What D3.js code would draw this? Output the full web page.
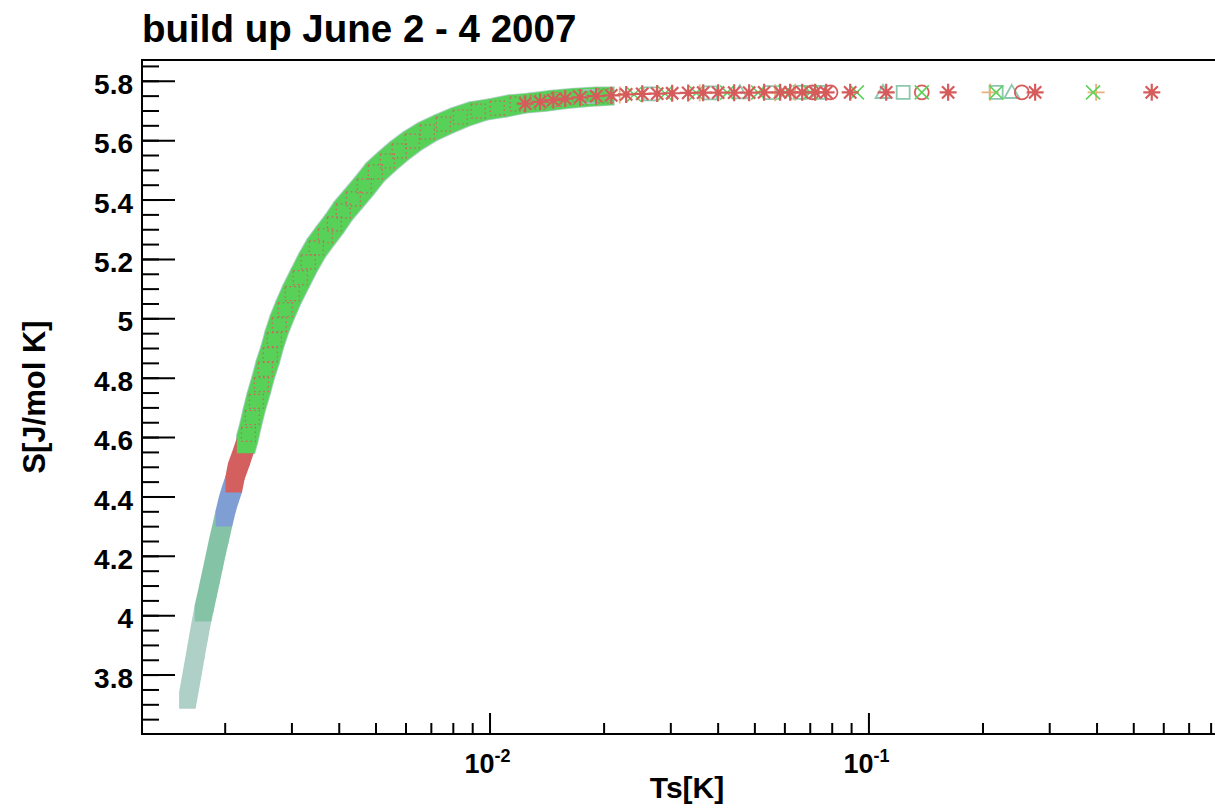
<!DOCTYPE html>
<html lang="en">
<head>
    <meta charset="UTF-8">
    <title>build up June 2 - 4 2007</title>
    <script src="https://d3js.org/d3.v7.min.js"></script>
    <style>
        body { margin: 0; background: #fff; }
        svg text {
            font-family: "Liberation Sans", Arial, Helvetica, sans-serif;
            font-weight: bold;
            fill: #000;
        }
        .frame { stroke: #000; stroke-width: 2; fill: none; }
        .tick line { stroke: #000; stroke-width: 2; }
    </style>
</head>
<body>
<div id="chart-container"></div>
<script>
// Curve: Ts[K] and S[J/mol K], split by the colour that shows on top
const paleTealT = [0.001594, 0.001623, 0.001653, 0.001683, 0.001714, 0.001753];
const paleTealS = [3.713, 3.769, 3.826, 3.883, 3.940, 4.007];

const tealT = [0.001753, 0.001778, 0.001811, 0.001844, 0.001878, 0.001912, 0.001948, 0.001991];
const tealS = [4.007, 4.041, 4.088, 4.135, 4.182, 4.229, 4.273, 4.327];

const blueT = [0.001991, 0.002032, 0.002069, 0.002113];
const blueS = [4.327, 4.374, 4.407, 4.441];

const redT = [0.002113, 0.002146, 0.002213, 0.002271];
const redS = [4.441, 4.485, 4.532, 4.575];

const greenT = [0.002271, 0.00231, 0.002366, 0.002424, 0.002499, 0.00256, 0.002638, 0.002703, 0.002786,
    0.002889, 0.003015, 0.003166, 0.003324, 0.00349, 0.003686, 0.003893, 0.004111, 0.004369, 0.00467,
    0.004994, 0.005372, 0.005777, 0.006252, 0.006849, 0.007548, 0.00837, 0.009336, 0.01048, 0.01183,
    0.01336, 0.01518, 0.01735, 0.0202];
const greenS = [4.575, 4.609, 4.666, 4.720, 4.777, 4.828, 4.878, 4.928, 4.979,
    5.029, 5.083, 5.137, 5.190, 5.237, 5.278, 5.318, 5.362, 5.402, 5.446,
    5.493, 5.530, 5.564, 5.597, 5.628, 5.654, 5.678, 5.698, 5.708, 5.722,
    5.728, 5.737, 5.744, 5.749];

// sparse points on the plateau, one pair per marker style
const redStarT = [0.01242, 0.0136, 0.01473, 0.01584, 0.01735, 0.01912, 0.02095, 0.02294, 0.02529, 0.0277,
    0.03034, 0.03344, 0.03663, 0.04012, 0.04422, 0.04844, 0.05305, 0.05848, 0.06215, 0.06685,
    0.07235, 0.07733, 0.0895, 0.1114, 0.1623, 0.2754, 0.5594];
const redStarS = [5.723, 5.729, 5.735, 5.740, 5.744, 5.748, 5.751, 5.754, 5.756, 5.757,
    5.758, 5.759, 5.760, 5.760, 5.760, 5.760, 5.761, 5.761, 5.761, 5.761,
    5.761, 5.761, 5.761, 5.761, 5.761, 5.761, 5.761];

const greenXT = [0.01652, 0.01993, 0.02406, 0.02905, 0.03511, 0.04239, 0.05117, 0.06029, 0.07018, 0.0932, 0.1383, 0.2173, 0.3917];
const greenXS = [5.742, 5.749, 5.754, 5.757, 5.759, 5.760, 5.760, 5.761, 5.761, 5.761, 5.761, 5.761, 5.761];

const tealSquareT = [0.01844, 0.02655, 0.03823, 0.05504, 0.06606, 0.07368, 0.1235, 0.2173];
const tealSquareS = [5.747, 5.756, 5.759, 5.760, 5.761, 5.761, 5.761, 5.761];

const orangePlusT = [0.02206, 0.03586, 0.05673, 0.06408, 0.2095, 0.399];
const orangePlusS = [5.752, 5.759, 5.760, 5.761, 5.761, 5.761];

const tealTriangleT = [0.04579, 0.1093, 0.239];
const tealTriangleS = [5.760, 5.761, 5.761];

const redCircleT = [0.07104, 0.0794, 0.1383, 0.254];
const redCircleS = [5.761, 5.761, 5.761, 5.761];

// axis ticks and labels
const yTickValues = [3.8, 4, 4.2, 4.4, 4.6, 4.8, 5, 5.2, 5.4, 5.6, 5.8];
const yTickLabels = ['3.8', '4', '4.2', '4.4', '4.6', '4.8', '5', '5.2', '5.4', '5.6', '5.8'];
const xTickValues = [0.01, 0.1];
const xTickExponents = ['-2', '-1'];

const titleText = 'build up June 2 - 4 2007';
const xTitle = 'Ts[K]';
const yTitle = 'S[J/mol K]';

// plot frame in page pixels (the right edge runs off the picture)
const frame = { left: 142, top: 60, right: 1232, bottom: 734 };

const svg = d3.select('#chart-container')
    .append('svg')
    .attr('width', 1215)
    .attr('height', 808);

const x = d3.scaleLog().domain([0.00121, 0.911]).range([frame.left, frame.right]);
const y = d3.scaleLinear().domain([3.6, 5.87]).range([frame.bottom, frame.top]);

svg.append('clipPath').attr('id', 'plot-clip')
    .append('rect')
    .attr('x', frame.left).attr('y', frame.top)
    .attr('width', frame.right - frame.left).attr('height', frame.bottom - frame.top);

const plot = svg.append('g').attr('clip-path', 'url(#plot-clip)');

// Dense run of filled square markers: hull of each pair of neighbouring squares
function drawBand(T, S, color, size) {
    const h = size / 2;
    const pts = T.map((t, i) => [x(t), y(S[i])]);
    const square = p => [[p[0] - h, p[1] - h], [p[0] + h, p[1] - h], [p[0] + h, p[1] + h], [p[0] - h, p[1] + h]];
    const hulls = d3.pairs(pts).map(([a, b]) => d3.polygonHull(square(a).concat(square(b))));
    plot.append('g')
        .selectAll('path')
        .data(hulls)
        .join('path')
        .attr('d', p => 'M' + p.join('L') + 'Z')
        .attr('fill', color);
}

// marker shapes, half size r
const shapes = {
    star: r => { const k = r * 0.72; return `M${-r},0H${r}M0,${-r}V${r}M${-k},${-k}L${k},${k}M${-k},${k}L${k},${-k}`; },
    times: r => `M${-r},${-r}L${r},${r}M${-r},${r}L${r},${-r}`,
    plus: r => `M${-r},0H${r}M0,${-r}V${r}`,
    square: r => `M${-r},${-r}H${r}V${r}H${-r}Z`,
    triangle: r => `M0,${-r}L${r},${r * 0.75}H${-r}Z`,
    circle: r => `M${r},0A${r},${r} 0 1,1 ${-r},0A${r},${r} 0 1,1 ${r},0Z`
};

function drawMarkers(T, S, shape, color, r, width, dash) {
    const g = plot.append('g');
    const pts = T.map((t, i) => [x(t), y(S[i])]);
    g.selectAll('path')
        .data(pts)
        .join('path')
        .attr('transform', p => `translate(${p[0]},${p[1]})`)
        .attr('d', shapes[shape](r))
        .attr('fill', 'none')
        .attr('stroke', color)
        .attr('stroke-width', width)
        .attr('stroke-dasharray', dash || null);
    if (shape === 'star') {
        g.selectAll('circle')
            .data(pts)
            .join('circle')
            .attr('cx', p => p[0]).attr('cy', p => p[1])
            .attr('r', 2.8)
            .attr('fill', color);
    }
}

// teal series sits under the green one, showing as a fringe
drawBand(greenT, greenS, '#a9cfc2', 19);
drawBand(paleTealT, paleTealS, '#aed0c6', 16.5);
drawBand(tealT, tealS, '#84c3a5', 16.5);
drawBand(blueT, blueS, '#7f9fd4', 16.5);
drawBand(redT, redS, '#d35f5f', 16.5);
drawBand(greenT, greenS, '#57d157', 17.5);
// red open markers peeking through the green run
drawMarkers(greenT.slice(1), greenS.slice(1), 'square', '#d35f5f', 7, 1.2, '1.5,3');

drawMarkers(tealSquareT, tealSquareS, 'square', '#8cc7ae', 6.5, 1.8);
drawMarkers(tealTriangleT, tealTriangleS, 'triangle', '#8cc7ae', 7.5, 1.8);
drawMarkers(orangePlusT, orangePlusS, 'plus', '#e8b27a', 8.5, 1.8);
drawMarkers(redCircleT, redCircleS, 'circle', '#d65c5c', 7, 1.8);
drawMarkers(greenXT, greenXS, 'times', '#5dd35d', 7, 1.6);
drawMarkers(redStarT, redStarS, 'star', '#d65c5c', 8.5, 2.2);

// y axis: long ticks at the labels, short ones every 0.05, all pointing into the plot
svg.append('g')
    .attr('transform', `translate(${frame.left},0)`)
    .call(d3.axisLeft(y).tickValues(d3.range(3.65, 5.87, 0.05)).tickSize(-17).tickFormat(''))
    .call(g => g.select('.domain').remove());

svg.append('g')
    .attr('transform', `translate(${frame.left},0)`)
    .call(d3.axisLeft(y).tickValues(yTickValues).tickSize(-33).tickPadding(9)
        .tickFormat((d, i) => yTickLabels[i]))
    .call(g => g.select('.domain').remove())
    .call(g => g.selectAll('text').attr('font-size', 28).attr('dy', '0.45em'));

// x axis: log decades long, 2..9 short
const xMinor = [];
[0.001, 0.01, 0.1].forEach(dec => d3.range(2, 10).forEach(m => {
    const v = m * dec;
    if (v > x.domain()[0] && v < x.domain()[1]) xMinor.push(v);
}));

svg.append('g')
    .attr('transform', `translate(0,${frame.bottom})`)
    .call(d3.axisBottom(x).tickValues(xMinor).tickSize(-11).tickFormat(''))
    .call(g => g.select('.domain').remove());

svg.append('g')
    .attr('transform', `translate(0,${frame.bottom})`)
    .call(d3.axisBottom(x).tickValues(xTickValues).tickSize(-21).tickFormat(''))
    .call(g => g.select('.domain').remove());

const xLabels = svg.append('g')
    .selectAll('text')
    .data(xTickValues)
    .join('text')
    .attr('x', d => x(d) - 2)
    .attr('y', frame.bottom + 39)
    .attr('text-anchor', 'middle')
    .attr('font-size', 27);
xLabels.append('tspan').text('10');
xLabels.append('tspan')
    .attr('dy', -11)
    .attr('font-size', 18)
    .text((d, i) => xTickExponents[i]);

// frame: left and top edges plus the bottom axis line
svg.append('path')
    .attr('class', 'frame')
    .attr('d', `M${frame.right},${frame.top}H${frame.left}V${frame.bottom}H${frame.right}`);

// titles
svg.append('text')
    .attr('x', frame.left)
    .attr('y', 42)
    .attr('font-size', 38.5)
    .text(titleText);

svg.append('text')
    .attr('x', 687)
    .attr('y', 798)
    .attr('text-anchor', 'middle')
    .attr('font-size', 30)
    .text(xTitle);

svg.append('text')
    .attr('transform', `translate(45,${(frame.top + frame.bottom) / 2}) rotate(-90)`)
    .attr('text-anchor', 'middle')
    .attr('font-size', 31)
    .text(yTitle);
</script>
</body>
</html>
